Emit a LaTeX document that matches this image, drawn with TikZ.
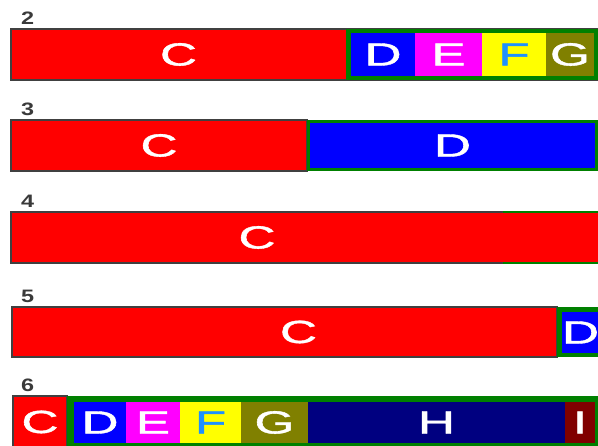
\documentclass[tikz,border=0pt]{standalone}
\usepackage{fontspec}
\setmainfont{Liberation Sans}
\newfontfamily\cellfont[FakeBold=1.2]{Liberation Sans}
\definecolor{outl}{HTML}{404040}
\definecolor{grp}{HTML}{008000}
\definecolor{cred}{HTML}{FF0000}
\definecolor{cblue}{HTML}{0000FF}
\definecolor{cmag}{HTML}{FF00FF}
\definecolor{cyel}{HTML}{FFFF00}
\definecolor{colive}{HTML}{808000}
\definecolor{cnavy}{HTML}{000080}
\definecolor{cmaroon}{HTML}{800000}
\definecolor{ftext}{HTML}{1E90FF}
\definecolor{lbltext}{HTML}{3A3A3A}
\newcommand\lettr[1]{\scalebox{1.6}[1]{#1}}
\newcommand\cellnode[7]{%
  \node[cellbox, fill=#6, minimum width=#4pt, minimum height=#5pt] (#1) at (#2,#3) {\lettr{#7}};}
\begin{document}
\begin{tikzpicture}[x=1pt,y=-1pt,
  cellbox/.style={inner sep=0pt, outer sep=0pt, anchor=north west, text=white,
    font=\cellfont\fontsize{32}{32}\selectfont},
  groupbox/.style={cellbox, fill=grp},
  redbox/.style={cellbox, fill=cred, draw=outl, line width=1.2pt},
  edge/.style={line width=1.2pt},
  lbl/.style={anchor=south west, inner sep=0pt, text=lbltext, font=\fontsize{18}{18}\selectfont\bfseries}]
\useasboundingbox[fill=white] (0,0) rectangle (598,446);
% row 2
\node[lbl] (l2) at (21,25) {\scalebox{1.3}[1]{2}};
\node[redbox, minimum width=587pt, minimum height=51pt] (c2) at (11,29) {};
\node[cellbox, minimum width=335pt, minimum height=51pt] (c2t) at (11,29) {\lettr{C}};
\node[groupbox, minimum width=252pt, minimum height=51pt] (g2) at (346,29) {};
\cellnode{d2}{351}{33}{64}{43}{cblue}{D}
\cellnode{e2}{415}{33}{67}{43}{cmag}{E}
\cellnode{f2}{482}{33}{64}{43}{cyel}{\textcolor{ftext}{F}}
\cellnode{g2c}{546}{33}{48}{43}{colive}{G}
% row 3
\node[lbl] (l3) at (21,116) {\scalebox{1.3}[1]{3}};
\node[redbox, minimum width=296pt, minimum height=51pt] (c3) at (11,120) {\lettr{C}};
\node[groupbox, minimum width=291pt, minimum height=51pt] (g3) at (307,120) {};
\cellnode{d3}{310}{123}{285}{45}{cblue}{D}
% row 4
\node[lbl] (l4) at (21,208) {\scalebox{1.3}[1]{4}};
\node[cellbox, fill=cred, minimum width=492pt, minimum height=51pt] (c4) at (11,212) {\lettr{C}};
\node[cellbox, fill=cred, minimum width=95pt, minimum height=51pt] (c4b) at (503,212) {};
\draw[edge, outl] (c4.north east) -- (c4.north west) -- (c4.south west) -- (c4.south east);
\draw[edge, grp] (c4b.north west) -- (c4b.north east);
\draw[edge, grp] (c4b.south west) -- (c4b.south east);
% row 5
\node[lbl] (l5) at (21,303) {\scalebox{1.3}[1]{5}};
\node[redbox, minimum width=545pt, minimum height=50pt] (c5) at (12,307) {\hspace*{28pt}\lettr{C}};
\node[groupbox, minimum width=41pt, minimum height=50pt] (g5) at (557,307) {};
\node[cellbox, fill=cblue, minimum width=36pt, minimum height=41pt] (d5) at (562,312) {\lettr{D}\hspace*{3pt}};
% row 6
\node[lbl] (l6) at (21,392) {\scalebox{1.3}[1]{6}};
\node[redbox, minimum width=54pt, minimum height=52pt] (c6) at (13,396) {\lettr{C}};
\node[groupbox, minimum width=531pt, minimum height=52pt] (g6) at (67,396) {};
\cellnode{d6}{74}{402}{52}{41}{cblue}{D}
\cellnode{e6}{126}{402}{54}{41}{cmag}{E}
\cellnode{f6}{180}{402}{61}{41}{cyel}{\textcolor{ftext}{F}}
\cellnode{g6c}{241}{402}{67}{41}{colive}{G}
\cellnode{h6}{308}{402}{257}{41}{cnavy}{H}
\cellnode{i6}{565}{402}{30}{41}{cmaroon}{I}
\end{tikzpicture}
\end{document}
